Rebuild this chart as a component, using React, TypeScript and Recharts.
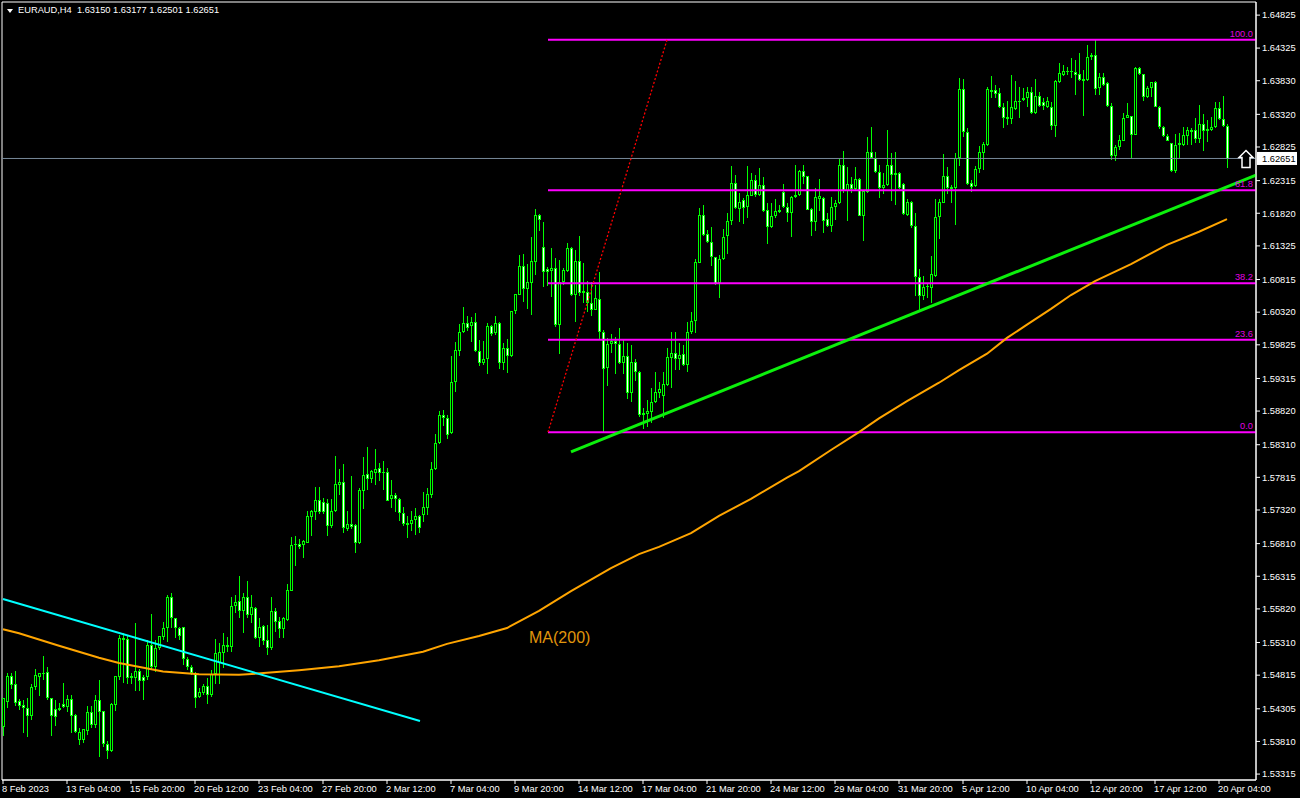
import React from 'react'
import {
  ComposedChart,
  Bar,
  Line,
  XAxis,
  YAxis,
  ReferenceLine,
  ReferenceDot,
  ReferenceArea,
} from 'recharts'

// all candle prices are in pips (price x 10000)
const opens = [
  15403,15441,15480,15468,15443,15436,15432,15420,15464,15479,15483,15487,15447,15430,15432,15438,15433,15445,15421,15383,
  15383,15397,15425,15406,15444,15427,15377,15367,15436,15479,15538,15536,15477,15477,15488,15479,15479,15527,15494,15523,
  15539,15553,15600,15568,15553,15555,15506,15494,15483,15448,15455,15465,15452,15483,15500,15515,15524,15524,15586,15594,
  15579,15600,15573,15583,15538,15556,15535,15523,15579,15564,15552,15565,15609,15680,15680,15679,15682,15721,15729,15747,
  15744,15743,15708,15730,15770,15774,15703,15711,15709,15682,15761,15787,15779,15788,15796,15790,15790,15749,15755,15749,
  15727,15712,15711,15717,15723,15724,15735,15755,15794,15834,15876,15872,15849,15926,15973,16002,16016,16011,16017,15973,
  15955,15961,16011,16000,16016,15955,15978,15965,16034,16058,16102,16067,16076,16108,16179,16131,16097,16094,16099,16013,
  16078,16094,16129,16058,16110,16064,16063,16046,16035,16052,16002,15947,15984,15988,15984,15955,15965,15909,15956,15941,
  15879,15878,15881,15896,15909,15905,15922,15962,15970,15961,15969,15952,16002,16019,16107,16179,16151,16138,16116,16076,
  16113,16148,16170,16228,16188,16202,16192,16208,16232,16210,16225,16187,16161,16178,16184,16214,16192,16182,16207,16210,
  16246,16239,16188,16169,16204,16205,16173,16163,16192,16198,16255,16216,16226,16219,16234,16178,16214,16275,16266,16245,
  16220,16225,16255,16243,16243,16226,16179,16199,16163,16085,16057,16070,16069,16087,16176,16198,16239,16222,16220,16266,
  16370,16305,16228,16223,16249,16273,16286,16369,16369,16364,16343,16328,16325,16340,16351,16354,16357,16366,16334,16360,
  16351,16343,16343,16314,16381,16392,16396,16398,16396,16393,16386,16384,16419,16422,16372,16389,16380,16345,16269,16282,
  16292,16326,16329,16301,16402,16393,16358,16372,16381,16343,16313,16299,16289,16246,16286,16286,16299,16305,16308,16295,
  16317,16307,16308,16313,16342,16325,16315,
]
const highs = [
  15447,15485,15485,15488,15445,15444,15447,15468,15491,15485,15511,15494,15447,15444,15439,15470,15452,15452,15423,15402,
  15400,15434,15434,15452,15474,15427,15382,15439,15480,15542,15545,15542,15485,15561,15491,15482,15535,15574,15535,15541,
  15562,15603,15606,15568,15555,15555,15509,15497,15486,15462,15468,15477,15489,15536,15530,15545,15539,15600,15603,15632,
  15606,15624,15603,15585,15568,15558,15558,15600,15583,15570,15570,15620,15691,15693,15688,15687,15730,15732,15767,15767,
  15750,15749,15749,15814,15794,15802,15730,15784,15711,15765,15812,15828,15793,15824,15803,15806,15796,15777,15758,15750,
  15737,15723,15730,15735,15724,15759,15765,15805,15847,15882,15884,15876,15966,15987,16014,16040,16026,16025,16031,15990,
  15988,16016,16013,16026,16017,15985,15991,16034,16060,16119,16120,16105,16146,16188,16181,16169,16100,16129,16114,16111,
  16099,16137,16131,16126,16148,16107,16079,16078,16073,16093,16005,15993,15999,15994,16008,15990,15985,15982,15961,15943,
  15887,15899,15917,15941,15926,15941,15978,16002,16002,15985,15982,16017,16032,16113,16190,16195,16157,16161,16116,16119,
  16158,16182,16254,16240,16213,16205,16254,16243,16240,16251,16237,16198,16198,16204,16195,16226,16198,16208,16255,16248,
  16255,16239,16190,16220,16234,16207,16182,16207,16202,16264,16276,16252,16237,16252,16235,16217,16298,16313,16275,16255,
  16243,16308,16273,16275,16245,16228,16204,16201,16182,16097,16087,16075,16117,16204,16204,16272,16252,16225,16273,16387,
  16386,16311,16232,16254,16284,16290,16373,16390,16376,16372,16349,16352,16392,16383,16373,16372,16373,16373,16386,16366,
  16357,16358,16351,16384,16410,16407,16404,16417,16414,16425,16399,16437,16425,16445,16395,16395,16381,16349,16285,16301,
  16334,16349,16329,16404,16404,16393,16375,16381,16383,16345,16314,16302,16289,16302,16304,16313,16313,16311,16326,16346,
  16333,16323,16328,16351,16351,16360,16318,
]
const lows = [
  15389,15432,15460,15434,15429,15394,15387,15414,15459,15450,15474,15444,15389,15405,15427,15432,15426,15394,15394,15376,
  15379,15391,15402,15402,15358,15373,15355,15365,15427,15474,15470,15468,15468,15457,15457,15444,15474,15491,15486,15520,
  15535,15532,15553,15538,15535,15497,15489,15482,15432,15447,15452,15438,15449,15468,15468,15492,15517,15517,15576,15568,
  15545,15568,15560,15536,15524,15527,15512,15520,15547,15538,15538,15564,15609,15647,15673,15659,15682,15693,15717,15726,
  15726,15693,15705,15729,15755,15697,15700,15703,15667,15680,15733,15762,15773,15770,15776,15762,15746,15735,15729,15715,
  15708,15690,15700,15694,15697,15714,15724,15750,15793,15832,15859,15840,15847,15911,15966,16000,16003,15987,15972,15950,
  15952,15938,15996,15997,15946,15944,15940,15964,16029,16058,16047,16037,16028,16088,16155,16070,16072,16055,16010,15969,
  16073,16093,16057,16017,16057,16046,16032,16026,16035,15991,15849,15920,15970,15938,15953,15938,15900,15896,15928,15873,
  15855,15858,15864,15894,15902,15872,15920,15917,15944,15944,15950,15941,15999,16000,16107,16148,16137,16102,16073,16054,
  16111,16120,16164,16188,16169,16166,16175,16208,16207,16208,16184,16135,16160,16175,16182,16190,16169,16146,16205,16208,
  16226,16187,16148,16155,16185,16152,16161,16154,16172,16196,16213,16170,16213,16217,16178,16140,16213,16266,16243,16205,
  16211,16223,16201,16195,16219,16179,16178,16160,16057,16035,16050,16054,16046,16085,16143,16198,16211,16198,16164,16254,
  16298,16225,16214,16222,16243,16248,16284,16357,16357,16342,16311,16316,16317,16339,16326,16352,16343,16333,16333,16343,
  16339,16342,16308,16298,16380,16390,16392,16387,16361,16383,16329,16383,16414,16361,16361,16375,16343,16263,16261,16278,
  16292,16326,16266,16301,16392,16352,16357,16358,16343,16310,16298,16292,16245,16243,16266,16284,16286,16286,16289,16289,
  16276,16290,16307,16311,16323,16313,16250,
]
const closes = [
  15447,15480,15466,15440,15435,15432,15420,15464,15482,15485,15485,15447,15420,15418,15429,15433,15445,15420,15395,15395,
  15400,15425,15406,15444,15426,15377,15367,15438,15480,15538,15535,15477,15480,15488,15473,15473,15527,15494,15523,15541,
  15553,15600,15568,15553,15541,15506,15494,15485,15447,15456,15465,15452,15483,15515,15517,15527,15527,15586,15593,15579,
  15600,15573,15585,15538,15555,15533,15523,15579,15562,15552,15568,15611,15679,15679,15676,15685,15723,15730,15747,15729,
  15729,15708,15730,15771,15774,15705,15711,15706,15682,15762,15785,15779,15791,15794,15788,15788,15746,15755,15749,15727,
  15711,15709,15717,15723,15705,15737,15756,15794,15834,15876,15872,15846,15926,15975,16002,16016,16008,16017,15973,15955,
  15961,16011,15999,16016,15955,15978,15965,16034,16060,16102,16067,16078,16110,16179,16172,16093,16093,16099,16013,16078,
  16096,16129,16058,16110,16061,16061,16046,16035,16053,16002,15946,15984,15988,15984,15955,15965,15909,15956,15941,15876,
  15876,15882,15896,15911,15916,15923,15964,15970,15961,15967,15952,16002,16019,16108,16179,16149,16138,16116,16075,16113,
  16146,16170,16228,16190,16199,16190,16210,16232,16210,16225,16185,16161,16178,16185,16187,16192,16182,16207,16210,16246,
  16237,16187,16169,16207,16208,16170,16163,16192,16198,16255,16216,16226,16219,16234,16178,16216,16275,16266,16245,16220,
  16225,16255,16240,16240,16220,16181,16199,16163,16085,16057,16070,16072,16090,16176,16199,16239,16220,16219,16266,16370,
  16305,16226,16222,16249,16275,16287,16370,16366,16363,16343,16326,16325,16343,16352,16352,16357,16366,16334,16360,16345,
  16345,16352,16314,16383,16395,16398,16398,16396,16392,16384,16383,16419,16422,16370,16389,16376,16345,16269,16282,16293,
  16326,16331,16301,16402,16393,16358,16372,16381,16343,16313,16299,16292,16246,16286,16289,16301,16308,16308,16295,16317,
  16307,16310,16313,16342,16325,16314,16265,
]

// MA(200) at a few candles
const maBars = [0,4,14,24,29,40,49,59,66,74,84,94,105,111,119,126,134,142,152,159,164,172,179,187,196,199,207,214,219,226,234,239,246,251,256,262,267,273,282,291,299,306]
const maPips = [15551,15545,15526,15508,15500,15487,15483,15482,15485,15489,15495,15504,15517,15529,15541,15553,15579,15609,15644,15665,15676,15697,15723,15749,15781,15791,15823,15850,15871,15897,15925,15944,15969,15993,16013,16037,16058,16079,16105,16134,16154,16173]

const timeBars = [0,16,32,48,64,80,96,112,128,144,160,176,192,208,224,240,256,272,288,304]
const timeLabels = [
  '8 Feb 2023','13 Feb 04:00','15 Feb 20:00','20 Feb 12:00','23 Feb 04:00','27 Feb 20:00','2 Mar 12:00',
  '7 Mar 04:00','9 Mar 20:00','14 Mar 12:00','17 Mar 04:00','21 Mar 20:00','24 Mar 12:00','29 Mar 04:00',
  '31 Mar 20:00','5 Apr 12:00','10 Apr 04:00','12 Apr 20:00','17 Apr 12:00','20 Apr 04:00',
]
const priceTicks = [
  1.64825,1.64325,1.6383,1.6332,1.62825,1.62315,1.6182,1.61325,1.60815,1.6032,1.59825,1.59315,
  1.5882,1.5831,1.57815,1.5732,1.5681,1.56315,1.5582,1.5531,1.54815,1.54305,1.5381,1.53315,
]
const fibLevels = [
  { label: '100.0', price: 1.6445 },
  { label: '61.8', price: 1.6217 },
  { label: '38.2', price: 1.6076 },
  { label: '23.6', price: 1.599 },
  { label: '0.0', price: 1.585 },
]
const lastPrice = 1.62651
const FONT = '"Liberation Sans", Arial, sans-serif'
const TEXT_SIZE = 9.3

const table = opens.map((o, i) => {
  const m = maBars.indexOf(i)
  return {
    i,
    open: o / 10000,
    high: highs[i] / 10000,
    low: lows[i] / 10000,
    close: closes[i] / 10000,
    ma: m >= 0 ? maPips[m] / 10000 : null,
  }
})

function Candle(props: any) {
  const { x, y, width, height, payload } = props
  const cx = x + width / 2
  const perPrice = height / (payload.high - payload.low || 1)
  const top = y + (payload.high - Math.max(payload.open, payload.close)) * perPrice
  const bottom = y + (payload.high - Math.min(payload.open, payload.close)) * perPrice
  const up = payload.close >= payload.open
  const h = Math.max(bottom - top, 1)
  return (
    <g shapeRendering="crispEdges">
      <rect x={cx} y={y} width={1} height={Math.max(height, 1)} fill="#00ff00" />
      <rect x={cx - 1} y={top} width={3} height={h} fill="#00ff00" />
      {h > 2 && <rect x={cx} y={top + 1} width={1} height={h - 2} fill={up ? '#000000' : '#ffffff'} />}
    </g>
  )
}

function TimeTick(props: any) {
  const { x, y, payload } = props
  const label = timeLabels[timeBars.indexOf(payload.value)]
  return (
    <text x={x - 1} y={y + 6} fill="#ffffff" fontSize={TEXT_SIZE} fontFamily={FONT} textAnchor="start">
      {label}
    </text>
  )
}

function PriceBox(props: any) {
  return (
    <g>
      <rect x={props.cx + 1} y={props.cy - 6.5} width={40} height={13} fill="#ffffff" />
      <text x={props.cx + 6} y={props.cy + 3.5} fill="#000000" fontSize={TEXT_SIZE} fontFamily={FONT}>
        1.62651
      </text>
    </g>
  )
}

function ArrowMark(props: any) {
  const { cx, cy } = props
  const d = `M${cx} ${cy - 8} L${cx + 7} ${cy - 1} L${cx + 4} ${cy - 1} L${cx + 4} ${cy + 9} L${cx - 4} ${cy + 9} L${cx - 4} ${cy - 1} L${cx - 7} ${cy - 1} Z`
  return <path d={d} fill="#000000" stroke="#ffffff" strokeWidth={1.5} />
}

function MaLabel(props: any) {
  return (
    <text x={props.cx} y={props.cy} fill="#e0960c" fontSize={16} fontFamily={FONT}>
      MA(200)
    </text>
  )
}

export default function App() {
  return (
    <div style={{ position: 'absolute', left: 0, top: 0, width: 1300, height: 798, background: '#000000', overflow: 'hidden' }}>
      <ComposedChart
        width={1300}
        height={798}
        data={table}
        margin={{ top: 2, right: 0, bottom: 0, left: 2 }}
        barCategoryGap={0}
      >
        <XAxis
          dataKey="i"
          type="number"
          scale="linear"
          domain={[-0.25, 313.25]}
          allowDataOverflow
          ticks={timeBars}
          interval={0}
          height={18}
          tickSize={4}
          stroke="#ffffff"
          tick={<TimeTick />}
        />
        <YAxis
          orientation="right"
          type="number"
          domain={[1.53225, 1.65024]}
          allowDataOverflow
          ticks={priceTicks}
          interval={0}
          width={44}
          tickSize={4}
          tickMargin={2}
          stroke="#ffffff"
          tick={{ fill: '#ffffff', fontSize: TEXT_SIZE, fontFamily: FONT }}
          tickFormatter={(v: number) => v.toFixed(5)}
        />
        <ReferenceArea x1={-0.25} x2={313.25} y1={1.53225} y2={1.65024} fill="none" stroke="#ffffff" />
        <ReferenceLine y={lastPrice} stroke="#778899" strokeWidth={1} />
        {fibLevels.map((f) => (
          <ReferenceLine
            key={f.label}
            segment={[{ x: 136.25, y: f.price }, { x: 313.25, y: f.price }]}
            stroke="#ff00ff"
            strokeWidth={2}
            label={{ value: f.label, position: 'insideBottomRight', offset: 3, dx: 0, fill: '#e000e0', fontSize: TEXT_SIZE, fontFamily: FONT }}
          />
        ))}
        <Bar dataKey={(d: any) => [d.low, d.high]} barSize={3} shape={<Candle />} isAnimationActive={false} />
        <Line
          dataKey="ma"
          type="linear"
          connectNulls
          dot={false}
          stroke="#ffa500"
          strokeWidth={2}
          isAnimationActive={false}
        />
        <ReferenceLine
          segment={[{ x: 136.25, y: 1.585 }, { x: 166, y: 1.6445 }]}
          stroke="#ff0000"
          strokeWidth={1.3}
          strokeDasharray="2 2"
        />
        <ReferenceLine
          segment={[{ x: 0, y: 1.5597 }, { x: 104.25, y: 1.5412 }]}
          stroke="#00ffff"
          strokeWidth={2}
        />
        <ReferenceLine
          segment={[{ x: 142, y: 1.582 }, { x: 313.25, y: 1.624 }]}
          stroke="#0cf00c"
          strokeWidth={3}
        />
        <ReferenceDot x={131.5} y={1.553} r={0} ifOverflow="visible" shape={<MaLabel />} />
        <ReferenceDot x={310.75} y={lastPrice} r={0} ifOverflow="visible" shape={<ArrowMark />} />
        <ReferenceDot x={313.25} y={lastPrice} r={0} ifOverflow="visible" shape={<PriceBox />} />
      </ComposedChart>
      <div style={{ position: 'absolute', left: 18, top: 4, color: '#ffffff', fontSize: TEXT_SIZE, fontFamily: FONT, whiteSpace: 'pre', lineHeight: '13px' }}>
        EURAUD,H4  1.63150 1.63177 1.62501 1.62651
      </div>
      <div style={{ position: 'absolute', left: 7, top: 9, width: 0, height: 0, borderLeft: '3px solid transparent', borderRight: '3px solid transparent', borderTop: '4px solid #ffffff' }} />
    </div>
  )
}
